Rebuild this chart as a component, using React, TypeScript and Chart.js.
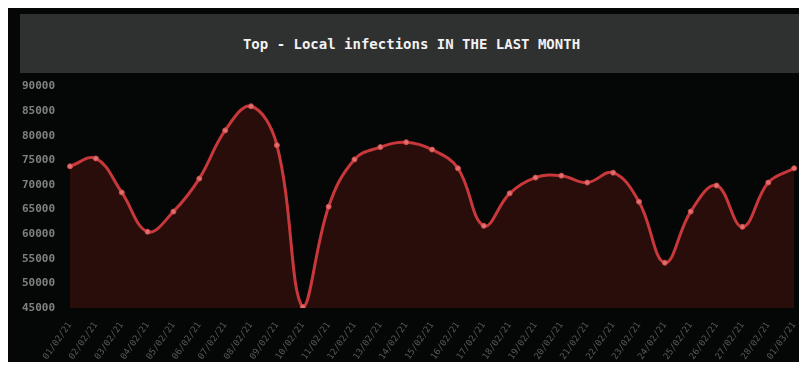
import React, { useEffect, useRef } from "react";
import { Chart, registerables } from "chart.js";

Chart.register(...registerables);

const TITLE = "Top - Local infections IN THE LAST MONTH";

const dayLabels: string[] = [
  "01/02/21", "02/02/21", "03/02/21", "04/02/21", "05/02/21", "06/02/21",
  "07/02/21", "08/02/21", "09/02/21", "10/02/21", "11/02/21", "12/02/21",
  "13/02/21", "14/02/21", "15/02/21", "16/02/21", "17/02/21", "18/02/21",
  "19/02/21", "20/02/21", "21/02/21", "22/02/21", "23/02/21", "24/02/21",
  "25/02/21", "26/02/21", "27/02/21", "28/02/21", "01/03/21",
];

const localInfections: number[] = [
  73800, 75400, 68500, 60500, 64600, 71300, 81100, 86000, 78100, 45200,
  65600, 75200, 77700, 78700, 77200, 73400, 61700, 68300, 71500, 71900,
  70500, 72500, 66600, 54200, 64600, 69900, 61500, 70500, 73400,
];

const yMin = 45000;
const yMax = 90000;
const yStep = 5000;

export default function App() {
  const canvasRef = useRef<HTMLCanvasElement | null>(null);

  useEffect(() => {
    if (!canvasRef.current) return;
    const chart = new Chart(canvasRef.current, {
      type: "line",
      data: {
        labels: dayLabels,
        datasets: [
          {
            label: "Local infections",
            data: localInfections,
            borderColor: "#c8383a",
            backgroundColor: "rgb(40,13,11)",
            pointBackgroundColor: "#e07070",
            pointBorderColor: "#d04a4c",
            pointRadius: 2.5,
            pointBorderWidth: 1,
            borderWidth: 3,
            tension: 0.4,
            fill: "start",
          },
        ],
      },
      options: {
        animation: false,
        responsive: false,
        maintainAspectRatio: false,
        layout: { padding: { top: 5, right: 7, bottom: 0, left: 0 } },
        plugins: {
          legend: { display: false },
          title: { display: false },
          tooltip: { enabled: false },
        },
        scales: {
          x: {
            offset: false,
            grid: { display: false },
            border: { display: false },
            ticks: {
              color: "#5a5a5a",
              font: { size: 9, family: "DejaVu Sans Mono" },
              minRotation: 55,
              maxRotation: 55,
              autoSkip: false,
              padding: 4,
            },
            afterFit: (axis: any) => {
              axis.height = 62;
            },
          },
          y: {
            min: yMin,
            max: yMax,
            grid: { display: false },
            border: { display: false },
            ticks: {
              stepSize: yStep,
              color: "#808080",
              font: { size: 11, family: "DejaVu Sans Mono", weight: "bold" },
              padding: 7,
              callback: (v: any) => String(v),
            },
            afterFit: (axis: any) => {
              axis.width = 63;
            },
          },
        },
      },
    });
    return () => chart.destroy();
  }, []);

  return (
    <div
      style={{
        position: "relative",
        width: 807,
        height: 370,
        margin: -8,
        background: "#ffffff",
        overflow: "hidden",
      }}
    >
      <div
        style={{
          position: "absolute",
          left: 7,
          top: 3,
          width: 800,
          height: 367,
          background: "#050606",
        }}
      />
      <div
        style={{
          position: "absolute",
          left: 20,
          top: 14,
          width: 783,
          height: 59,
          background: "#2f3030",
          display: "flex",
          alignItems: "center",
          justifyContent: "center",
          color: "#f2f2f2",
          fontFamily: "'DejaVu Sans Mono', monospace",
          fontWeight: "bold",
          fontSize: 14,
        }}
      >
        {TITLE}
      </div>
      <canvas
        ref={canvasRef}
        width={800}
        height={297}
        style={{ position: "absolute", left: 7, top: 73, width: 800, height: 297 }}
      />
    </div>
  );
}
